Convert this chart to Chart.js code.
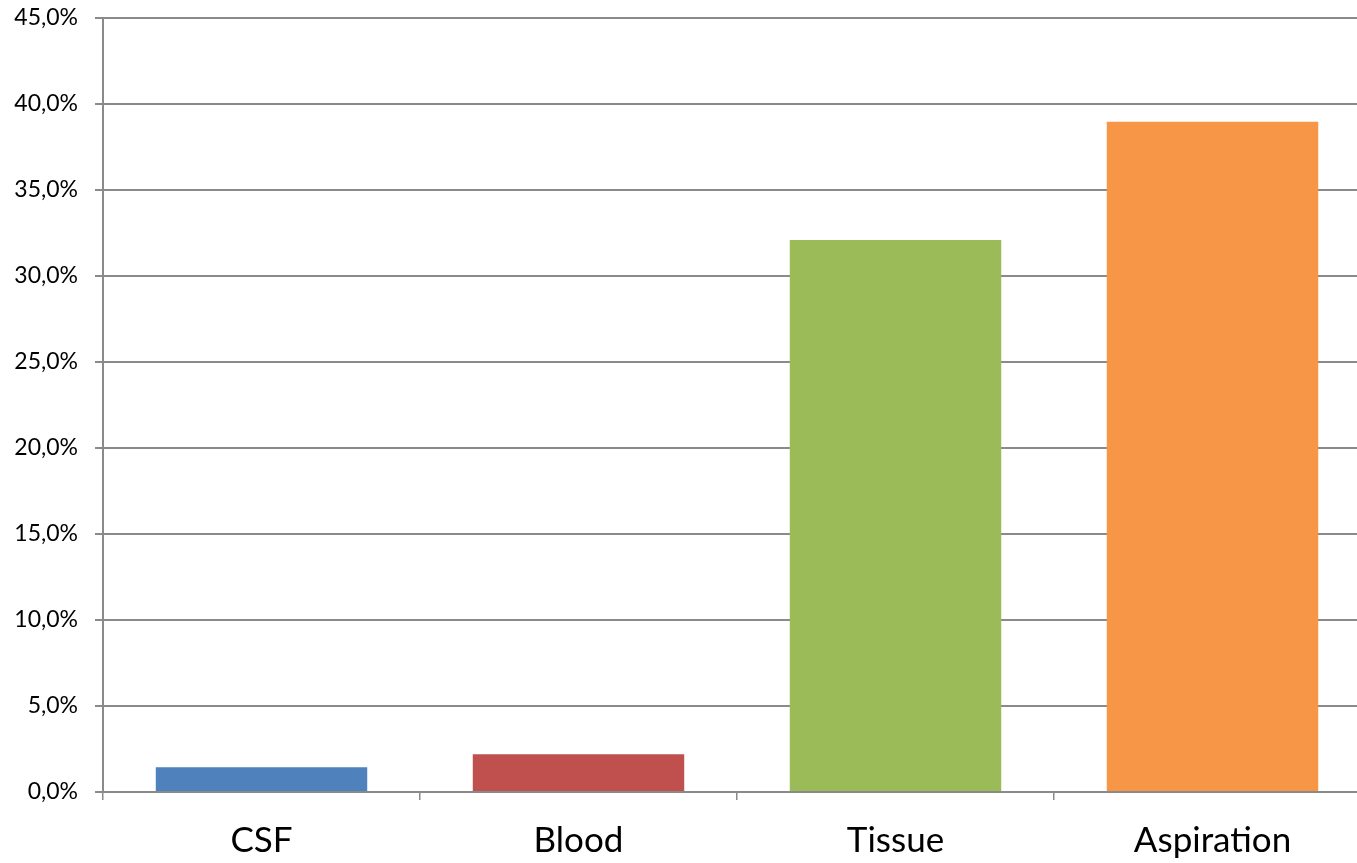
<!DOCTYPE html>
<html><head><meta charset="utf-8">
<script src="https://cdn.jsdelivr.net/npm/chart.js@4"></script>
<style>html,body{margin:0;padding:0;overflow:hidden;background:#fff;width:1357px;height:863px}
#wrap{position:absolute;left:0;top:-13px;width:1380px;height:876px}</style>
</head><body>
<div id="wrap"><canvas id="c" width="1380" height="876"></canvas></div>
<script>
const categories = ["CSF", "Blood", "Tissue", "Aspiration"];
const values = [1.44, 2.19, 32.09, 38.96];
const barColors = ["#4F81BD", "#C0504D", "#9BBB59", "#F79646"];
const yTicks = [0, 5, 10, 15, 20, 25, 30, 35, 40, 45];
const gridColor = "#8a8a8a";
const fontFamily = "Lato, 'Open Sans', sans-serif";

new Chart(document.getElementById('c'), {
  type: 'bar',
  data: { labels: categories, datasets: [{ data: values, backgroundColor: barColors, barPercentage: 0.667, categoryPercentage: 1.0 }] },
  options: {
    responsive: false, animation: false, devicePixelRatio: 1,
    layout: { padding: { top: 6, right: 9, left: 0, bottom: 0 } },
    plugins: { legend: { display: false }, tooltip: { enabled: false } },
    scales: {
      x: {
        grid: { display: true, drawOnChartArea: false, drawTicks: true, tickLength: 8, color: gridColor, lineWidth: 1.5, offset: true },
        border: { display: true, color: gridColor, width: 2 },
        ticks: { color: "#000", font: { family: fontFamily, size: 35 }, padding: 20, maxRotation: 0 },
        afterFit: s => { s.height = 71; }
      },
      y: {
        min: 0, max: 45,
        afterBuildTicks: s => { s.ticks = yTicks.map(v => ({ value: v })); },
        grid: { color: gridColor, lineWidth: 2, tickLength: 8, drawTicks: true },
        border: { display: true, color: gridColor, width: 2 },
        ticks: { color: "#000", font: { family: fontFamily, size: 23 }, padding: 17,
          callback: v => v.toFixed(1).replace('.', ',') + '%' },
        afterFit: s => { s.width = 103; }
      }
    }
  }
});
</script>
</body></html>
